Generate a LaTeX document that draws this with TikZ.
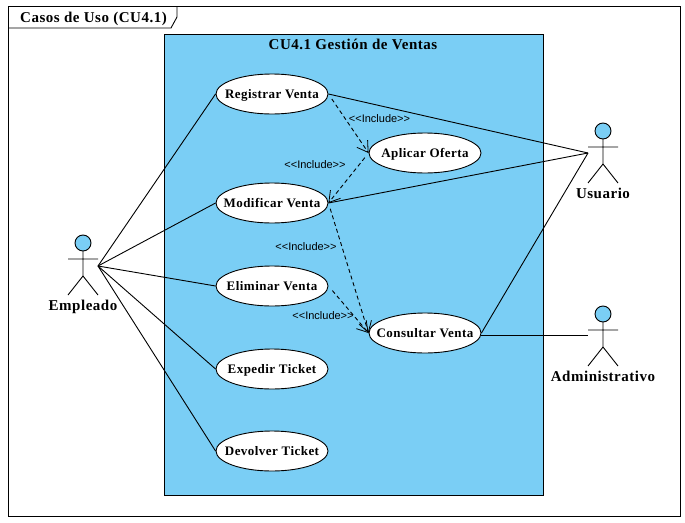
\documentclass[tikz,border=0pt]{standalone}
\usepackage{fontspec}
\setmainfont{Liberation Serif}
\setsansfont{Liberation Sans}
\newfontfamily\ucbold[LetterSpace=3.5]{Liberation Serif Bold}
\usetikzlibrary{arrows.meta, shapes.geometric}
\definecolor{ucblue}{HTML}{7ACEF5}
\tikzset{
    usecase/.style={draw, fill=white, ellipse, line width=0.9pt, inner xsep=-14pt, inner ysep=0pt, minimum width=112pt, minimum height=40pt, text height=8.6pt, text depth=0pt, font=\ucbold\fontsize{13}{15}\selectfont},
    titlelabel/.style={font=\ucbold\fontsize{15}{17}\selectfont, inner sep=0pt, text height=10pt, text depth=0pt},
    includelabel/.style={font=\sffamily\fontsize{11}{13}\selectfont, inner sep=0pt},
    assoc/.style={line width=0.9pt},
    includes/.style={line width=0.9pt, dash pattern=on 4pt off 3pt, shorten <=6pt, -{Straight Barb[length=10.5pt,width=13pt,line width=0.8pt]}},
    actor/.pic={
        \draw[line width=0.9pt, fill=ucblue] (0,0) circle (8);
        \draw[line width=0.9pt] (0,8) -- (0,33) (-15,16) -- (15,16) (-15,52) -- (0,33) -- (15,52);
    }
}
\begin{document}
\begin{tikzpicture}[x=1pt, y=-1pt]
    \useasboundingbox (0,0) rectangle (685,522);
    \fill[white] (0,0) rectangle (685,522);
    \draw[line width=0.9pt] (8,6) rectangle (680,516);
    \draw[line width=0.9pt] (8,28) -- (171,28) -- (177,17) -- (177,6);
    \node[titlelabel, anchor=west] (frametitle) at (20,17.7) {Casos de Uso (CU4.1)};

    \draw[line width=0.9pt, fill=ucblue] (164.5,34.5) rectangle (543.5,495);
    \node[titlelabel] (boxtitle) at (353,44.3) {CU4.1 Gestión de Ventas};

    \node[usecase] (registrar) at (272,94) {Registrar Venta};
    \node[usecase] (aplicar) at (425,153) {Aplicar Oferta};
    \node[usecase] (modificar) at (272,203) {Modificar Venta};
    \node[usecase] (eliminar) at (272,286) {Eliminar Venta};
    \node[usecase] (consultar) at (425,333) {Consultar Venta};
    \node[usecase] (expedir) at (272,369) {Expedir Ticket};
    \node[usecase] (devolver) at (272,451) {Devolver Ticket};

    \pic at (83,243) {actor};
    \pic at (603,131) {actor};
    \pic at (603,314) {actor};
    \node[titlelabel] (empleado) at (83,305) {Empleado};
    \node[titlelabel] (usuario) at (603,193) {Usuario};
    \node[titlelabel] (administrativo) at (603,376) {Administrativo};
    \coordinate (empleadoend) at (98,266);
    \coordinate (usuarioend) at (588,153);
    \coordinate (adminend) at (588,335);

    \foreach \target in {registrar, modificar, eliminar, expedir, devolver}
        \draw[assoc] (empleadoend) -- (\target.west);
    \draw[assoc] (registrar.east) -- (usuarioend);
    \draw[assoc] (modificar.east) -- (usuarioend);
    \draw[assoc] (consultar.east) -- (usuarioend);
    \draw[assoc] (consultar.east) ++(0,2) -- (adminend);

    \draw[includes] (registrar.east) -- (aplicar.west);
    \draw[includes] (aplicar.west) -- (modificar.east);
    \draw[includes] (modificar.east) -- (consultar.west);
    \draw[includes] (eliminar.east) -- (consultar.west);

    \node[includelabel] (includea) at (379.5,118.5) {<{}<Include>{}>};
    \node[includelabel] (includeb) at (315,165) {<{}<Include>{}>};
    \node[includelabel] (includec) at (306,247) {<{}<Include>{}>};
    \node[includelabel] (included) at (323,316) {<{}<Include>{}>};
\end{tikzpicture}
\end{document}
